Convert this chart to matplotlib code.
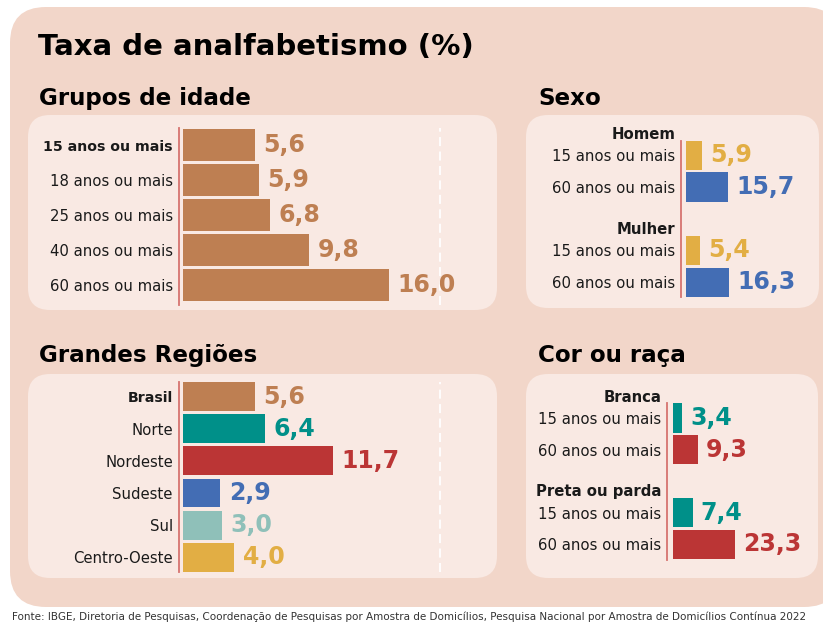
import matplotlib
matplotlib.use("Agg")
import matplotlib.pyplot as plt
from matplotlib.patches import FancyBboxPatch

plt.rcParams['font.family'] = ['DejaVu Sans']

# --- data ---
idade_labels = ["15 anos ou mais", "18 anos ou mais", "25 anos ou mais",
                "40 anos ou mais", "60 anos ou mais"]
idade_vals = [5.6, 5.9, 6.8, 9.8, 16.0]

regiao_labels = ["Brasil", "Norte", "Nordeste", "Sudeste", "Sul", "Centro-Oeste"]
regiao_vals = [5.6, 6.4, 11.7, 2.9, 3.0, 4.0]

faixa_labels = ["15 anos ou mais", "60 anos ou mais"]

sexo_groups = ["Homem", "Mulher"]
sexo_15 = [5.9, 5.4]
sexo_60 = [15.7, 16.3]

cor_groups = ["Branca", "Preta ou parda"]
cor_15 = [3.4, 7.4]
cor_60 = [9.3, 23.3]

footer = ("Fonte: IBGE, Diretoria de Pesquisas, Coordenação de Pesquisas por Amostra "
          "de Domicílios, Pesquisa Nacional por Amostra de Domicílios Contínua 2022")

# --- colours ---
BROWN = "#be7f52"
TEAL = "#009089"
RED = "#bb3535"
BLUE = "#436db4"
LTEAL = "#8fc0b9"
YELLOW = "#e2ae44"
OUTER = "#f2d6c9"
INNER = "#f9e9e3"
AXLINE = "#d6736f"
TXT = "#1a1a1a"

regiao_colors = [BROWN, TEAL, RED, BLUE, LTEAL, YELLOW]

W, H = 823, 624
fig = plt.figure(figsize=(W / 100, H / 100), dpi=100)
fig.patch.set_facecolor("white")

# background layer in pixel coordinates (y down)
bg = fig.add_axes([0, 0, 1, 1])
bg.set_xlim(0, W)
bg.set_ylim(H, 0)
bg.axis("off")


def rbox(x0, y0, x1, y1, r, color):
    bg.add_patch(FancyBboxPatch((x0, y0), x1 - x0, y1 - y0,
                                boxstyle=f"round,pad=0,rounding_size={r}",
                                fc=color, ec="none"))


rbox(10, 7, 840, 607, 36, OUTER)
rbox(28, 115, 497, 310, 22, INNER)
rbox(526, 115, 819, 308, 22, INNER)
rbox(28, 374, 497, 578, 22, INNER)
rbox(526, 374, 818, 578, 22, INNER)

bg.text(38, 55, "Taxa de analfabetismo (%)", fontsize=21, fontweight="bold",
        color="black", va="baseline")
for x, y, s in [(39, 105, "Grupos de idade"), (538, 105, "Sexo"),
                (39, 362, "Grandes Regiões"), (538, 362, "Cor ou raça")]:
    bg.text(x, y, s, fontsize=16.6, fontweight="bold", color="black", va="baseline")
bg.text(12, 620, footer, fontsize=7.45, color="#333333", va="baseline")


def make_axes(x0, scale, xmin, xmax, y0, pitch, ymin, ymax):
    left = x0 + xmin * scale
    right = x0 + xmax * scale
    top = y0 + ymin * pitch
    bottom = y0 + ymax * pitch
    ax = fig.add_axes([left / W, 1 - bottom / H, (right - left) / W, (bottom - top) / H])
    ax.set_xlim(xmin, xmax)
    ax.set_ylim(ymax, ymin)
    ax.patch.set_visible(False)
    for s in ["top", "right", "bottom"]:
        ax.spines[s].set_visible(False)
    ax.spines["left"].set_color(AXLINE)
    ax.spines["left"].set_linewidth(1.3)
    ax.set_xticks([])
    ax.tick_params(axis="y", length=0, pad=4.3, labelsize=10.7, labelcolor=TXT)
    return ax


def fmt(v):
    return f"{v:.1f}".replace(".", ",")


def value_labels(ax, pos, vals, colors, size=17):
    for p, v, c in zip(pos, vals, colors):
        ax.annotate(fmt(v), (v, p), xytext=(6, 0), textcoords="offset points",
                    ha="left", va="center", fontsize=size, fontweight="bold",
                    color=c, annotation_clip=False)


def highlight_first(ax):
    lab = ax.get_yticklabels()[0]
    lab.set_fontweight("bold")
    lab.set_fontsize(10.2)


# Grupos de idade
ax1 = make_axes(183, 12.86, -0.33, 21, 145, 35, -0.49, 4.57)
pos1 = list(range(len(idade_vals)))
ax1.barh(pos1, idade_vals, height=0.9, color=BROWN)
ax1.set_yticks(pos1, idade_labels)
highlight_first(ax1)
ax1.axvline(20, color="white", lw=1.3, ls=(0, (5, 3)))
value_labels(ax1, pos1, idade_vals, [BROWN] * len(pos1))

# Grandes Regiões
ax3 = make_axes(183, 12.86, -0.33, 21, 396.7, 32.1, -0.47, 5.45)
pos3 = list(range(len(regiao_vals)))
ax3.barh(pos3, regiao_vals, height=0.9, color=regiao_colors)
ax3.set_yticks(pos3, regiao_labels)
highlight_first(ax3)
ax3.axvline(20, color="white", lw=1.3, ls=(0, (5, 3)))
value_labels(ax3, pos3, regiao_vals, regiao_colors)


def grouped(ax, groups, v15, v60, c15, c60):
    pos, vals, cols, labels = [], [], [], []
    for i, g in enumerate(groups):
        base = 3 * i
        pos += [base, base + 1]
        vals += [v15[i], v60[i]]
        cols += [c15, c60]
        labels += faixa_labels
        ax.annotate(g, (0, base - 0.52), xycoords=("axes fraction", "data"),
                    xytext=(-4.3, 0), textcoords="offset points", ha="right",
                    va="baseline", fontsize=10.7, fontweight="bold", color=TXT,
                    annotation_clip=False)
    ax.barh(pos, vals, height=0.92, color=cols)
    ax.set_yticks(pos, labels)
    value_labels(ax, pos, vals, cols)


# Sexo
ax2 = make_axes(685.7, 2.68, -1.75, 45, 155.3, 31.7, -0.46, 4.47)
grouped(ax2, sexo_groups, sexo_15, sexo_60, YELLOW, BLUE)

# Cor ou raça
ax4 = make_axes(672.7, 2.68, -2.0, 45, 418, 31.6, -0.48, 4.48)
grouped(ax4, cor_groups, cor_15, cor_60, TEAL, RED)

fig.savefig("out.png", dpi=100)
